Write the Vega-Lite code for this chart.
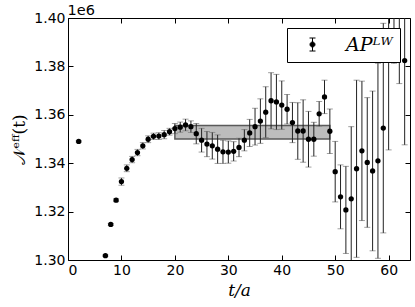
{
  "$schema": "https://vega.github.io/schema/vega-lite/v6.json",
  "width": 342,
  "height": 242,
  "autosize": "none",
  "padding": {"left": 68, "top": 18, "right": 5, "bottom": 47},
  "background": "white",
  "config": {
    "view": {"stroke": "black", "strokeWidth": 1},
    "axis": {"domain": false, "grid": false, "labelFont": "DejaVu Sans", "labelFontSize": 14, "labelColor": "black", "tickColor": "black", "tickSize": -5, "ticks": true, "labelPadding": 8}
  },
  "datasets": {
    "pts": [
      {"t": 2, "N": 1349000, "err": 300},
      {"t": 7, "N": 1301800, "err": 300},
      {"t": 8, "N": 1314700, "err": 400},
      {"t": 9, "N": 1324700, "err": 600},
      {"t": 10, "N": 1332400, "err": 1500},
      {"t": 11, "N": 1337900, "err": 1400},
      {"t": 12, "N": 1341500, "err": 1300},
      {"t": 13, "N": 1344400, "err": 1300},
      {"t": 14, "N": 1347200, "err": 1300},
      {"t": 15, "N": 1349900, "err": 1400},
      {"t": 16, "N": 1351100, "err": 1300},
      {"t": 17, "N": 1351200, "err": 1400},
      {"t": 18, "N": 1351800, "err": 1700},
      {"t": 19, "N": 1353000, "err": 1400},
      {"t": 20, "N": 1354300, "err": 2100},
      {"t": 21, "N": 1354900, "err": 2100},
      {"t": 22, "N": 1355800, "err": 2400},
      {"t": 23, "N": 1355100, "err": 2400},
      {"t": 24, "N": 1352200, "err": 4200},
      {"t": 25, "N": 1349500, "err": 4900},
      {"t": 26, "N": 1347900, "err": 5200},
      {"t": 27, "N": 1347200, "err": 5500},
      {"t": 28, "N": 1345800, "err": 5900},
      {"t": 29, "N": 1344700, "err": 4800},
      {"t": 30, "N": 1344600, "err": 4600},
      {"t": 31, "N": 1344900, "err": 4000},
      {"t": 32, "N": 1346500, "err": 3800},
      {"t": 33, "N": 1349500, "err": 4400},
      {"t": 34, "N": 1352500, "err": 5600},
      {"t": 35, "N": 1355100, "err": 7600},
      {"t": 36, "N": 1357400, "err": 9200},
      {"t": 37, "N": 1361100, "err": 10500},
      {"t": 38, "N": 1365800, "err": 11600},
      {"t": 39, "N": 1365300, "err": 11400},
      {"t": 40, "N": 1364000, "err": 10000},
      {"t": 41, "N": 1362300, "err": 6100},
      {"t": 42, "N": 1356800, "err": 8300},
      {"t": 43, "N": 1353300, "err": 11700},
      {"t": 44, "N": 1353300, "err": 12900},
      {"t": 45, "N": 1349900, "err": 11500},
      {"t": 46, "N": 1349900, "err": 7000},
      {"t": 47, "N": 1360400, "err": 5100},
      {"t": 48, "N": 1367400, "err": 6900},
      {"t": 49, "N": 1353200, "err": 9200},
      {"t": 50, "N": 1336500, "err": 12500},
      {"t": 51, "N": 1326100, "err": 13200},
      {"t": 52, "N": 1320700, "err": 18000},
      {"t": 53, "N": 1325300, "err": 29800},
      {"t": 54, "N": 1337700, "err": 36600},
      {"t": 55, "N": 1345100, "err": 28800},
      {"t": 56, "N": 1340300, "err": 26800},
      {"t": 57, "N": 1336800, "err": 33000},
      {"t": 58, "N": 1341000, "err": 40300},
      {"t": 59, "N": 1354500, "err": 43300},
      {"t": 60, "N": 1410000, "err": 64500},
      {"t": 61, "N": 1420000, "err": 38700},
      {"t": 62, "N": 1415000, "err": 42100},
      {"t": 63, "N": 1382400, "err": 34800}
    ],
    "band": [{"t": 20, "t2": 49, "lo": 1350000, "hi": 1355600}]
  },
  "layer": [
    {
      "data": {"name": "band"},
      "mark": {"type": "rect", "fill": "#bdbdbd", "stroke": "#5a5a5a", "strokeWidth": 1.5},
      "encoding": {
        "x": {"field": "t", "type": "quantitative", "scale": {"domain": [0, 64], "nice": false},
              "axis": {"orient": "bottom", "values": [0, 10, 20, 30, 40, 50, 60], "title": "t/a", "titleFont": "DejaVu Serif", "titleFontStyle": "italic", "titleFontWeight": "normal", "titleFontSize": 17, "titleColor": "black", "titlePadding": 5}},
        "x2": {"field": "t2"},
        "y": {"field": "lo", "type": "quantitative", "scale": {"domain": [1300000, 1400000], "nice": false, "zero": false},
              "axis": {"orient": "left", "values": [1300000, 1320000, 1340000, 1360000, 1380000, 1400000], "labelExpr": "format(datum.value/1e6, '.2f')", "title": "𝒩ᵉᶠᶠ(t)", "titleFont": "DejaVu Serif", "titleFontWeight": "normal", "titleFontSize": 17, "titleColor": "black", "titlePadding": 5}},
        "y2": {"field": "hi"}
      }
    },
    {
      "data": {"name": "pts"},
      "mark": {"type": "errorbar", "clip": true, "ticks": {"size": 6, "color": "#777777"}, "rule": {"color": "#222222", "strokeWidth": 1}},
      "encoding": {
        "x": {"field": "t", "type": "quantitative", "axis": null},
        "y": {"field": "N", "type": "quantitative", "axis": null},
        "yError": {"field": "err"}
      }
    },
    {
      "data": {"name": "pts"},
      "mark": {"type": "circle", "clip": true, "size": 28, "opacity": 1},
      "encoding": {
        "x": {"field": "t", "type": "quantitative", "axis": null},
        "y": {"field": "N", "type": "quantitative", "axis": null},
        "color": {"datum": "APᴸᵂ", "scale": {"range": ["black"]},
                  "legend": {"title": null, "orient": "top-right", "offset": 10, "strokeColor": "black", "fillColor": "white", "padding": 7,
                             "symbolType": "M0,-1.3V1.3M-0.6,-1.3H0.6M-0.6,1.3H0.6M0.5,0A0.5,0.5 0 1,1 -0.5,0A0.5,0.5 0 1,1 0.5,0Z",
                             "symbolSize": 100, "symbolFillColor": "black", "symbolStrokeColor": "black", "symbolStrokeWidth": 1, "symbolOffset": 9,
                             "labelFont": "DejaVu Serif", "labelFontStyle": "italic", "labelFontSize": 19, "labelColor": "black", "labelOffset": 24, "labelLimit": 200}}
      }
    },
    {
      "data": {"name": "pts"},
      "mark": {"type": "point", "opacity": 0},
      "encoding": {
        "x": {"field": "t", "type": "quantitative", "axis": {"orient": "top", "values": [0, 10, 20, 30, 40, 50, 60], "labels": false, "labelPadding": 0, "title": "1e6", "titleFont": "DejaVu Sans", "titleFontSize": 14.5, "titleFontWeight": "normal", "titleColor": "black", "titleAnchor": "start", "titleAlign": "left", "titleBaseline": "alphabetic", "titleX": -1, "titleY": -4}},
        "y": {"field": "N", "type": "quantitative", "axis": {"orient": "right", "values": [1300000, 1320000, 1340000, 1360000, 1380000, 1400000], "labels": false, "title": null, "labelPadding": 0}}
      }
    }
  ],
  "resolve": {"axis": {"x": "independent", "y": "independent"}}
}
